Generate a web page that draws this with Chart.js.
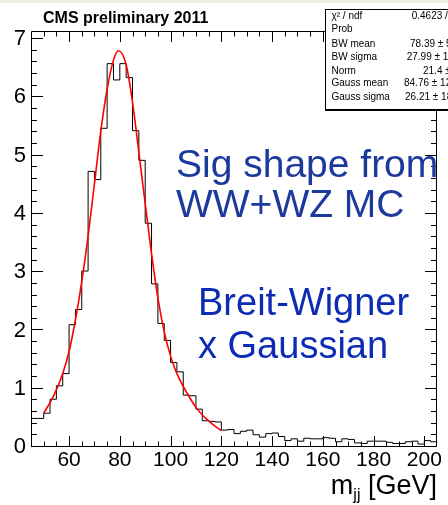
<!DOCTYPE html>
<html><head><meta charset="utf-8">
<script src="https://cdn.jsdelivr.net/npm/chart.js@4.4.1/dist/chart.umd.min.js"></script>
<style>html,body{margin:0;padding:0;background:#fff;overflow:hidden}</style>
</head><body>
<canvas id="c" width="448" height="505" style="display:block;width:448px;height:505px"></canvas>
<script>
// ---- data ----
const binLowEdges = [45,47.5,50,52.5,55,57.5,60,62.5,65,67.5,70,72.5,75,77.5,80,82.5,85,87.5,90,92.5,95,97.5,100,102.5,105,107.5,110,112.5,115,117.5,120,122.5,125,127.5,130,132.5,135,137.5,140,142.5,145,147.5,150,152.5,155,157.5,160,162.5,165,167.5,170,172.5,175,177.5,180,182.5,185,187.5,190,192.5,195,197.5,200,202.5];
const histUpperEdge = 205;
const binContents = [0.49,0.49,0.58,0.82,1.05,1.26,2.10,2.36,3.02,4.73,4.59,5.47,6.58,6.30,6.58,6.34,5.43,4.92,3.84,2.80,2.12,1.83,1.45,1.29,0.89,0.88,0.65,0.45,0.44,0.43,0.29,0.30,0.23,0.27,0.29,0.21,0.17,0.23,0.24,0.18,0.11,0.14,0.10,0.15,0.14,0.14,0.16,0.15,0.09,0.14,0.13,0.07,0.06,0.10,0.10,0.10,0.08,0.06,0.06,0.09,0.10,0.05,0.11,0.09];
const fitX = [50,52.5,55,57.5,60,62.5,65,67.5,70,72.5,75,77.5,79.5,82.5,85,87.5,90,92.5,95,97.5,100,102.5,105,107.5,110,112.5,115,117.5,120];
const fitY = [0.58,0.76,0.98,1.26,1.64,2.18,2.84,3.62,4.52,5.42,6.14,6.64,6.80,6.56,5.92,5.06,4.18,3.32,2.56,1.98,1.56,1.26,1.04,0.85,0.68,0.55,0.45,0.36,0.28];
const xTickLabels = [60,80,100,120,140,160,180,200];
const yTickLabels = [0,1,2,3,4,5,6,7];
const statsNames = ["\u03C7\u00B2 / ndf","Prob","BW mean","BW sigma","Norm","Gauss mean","Gauss sigma"];
const statsValues = ["0.4623 /","","78.39 \u00B1 5","27.99 \u00B1 11","21.4 \u00B1","84.76 \u00B1 12","26.21 \u00B1 18"];
const titleText = "CMS preliminary 2011";
const noteLines1 = ["Sig shape from","WW+WZ MC"];
const noteLines2 = ["Breit-Wigner","x Gaussian"];

const FONT = '"Liberation Sans", Arial, Helvetica, sans-serif';

const histPoints = binLowEdges.map((e,i)=>({x:e,y:binContents[i]}));
histPoints.push({x:histUpperEdge, y:binContents[binContents.length-1]});
const fitPoints = fitX.map((v,i)=>({x:v,y:fitY[i]}));

const rootPlugin = {
  id:'rootStyle',
  beforeDraw(chart){
    const c = chart.ctx; c.save();
    c.fillStyle='#fff'; c.fillRect(0,0,chart.width,chart.height);
    c.fillStyle='#f3f0de'; c.fillRect(0,0,chart.width,3);
    c.restore();
  },
  afterDatasetsDraw(chart){
    const {ctx, chartArea:a, scales} = chart;
    const x = scales.x, y = scales.y;
    const L=Math.round(a.left), R=Math.round(a.right), T=Math.round(a.top), B=Math.round(a.bottom);
    ctx.save();
    ctx.strokeStyle='#000'; ctx.lineWidth=1;
    ctx.beginPath();
    ctx.moveTo(L+0.5,T+0.5); ctx.lineTo(R-0.5,T+0.5); ctx.lineTo(R-0.5,B-0.5); ctx.lineTo(L+0.5,B-0.5); ctx.closePath();
    for(let v=50; v<205; v+=5){
      const px = Math.round(x.getPixelForValue(v))+0.5;
      const len = (v%20===0)?11:5.5;
      ctx.moveTo(px,B); ctx.lineTo(px,B-len);
      ctx.moveTo(px,T); ctx.lineTo(px,T+len);
    }
    for(let k=0;k<=35;k++){
      const v = k*0.2;
      const py = Math.round(y.getPixelForValue(v))-0.5;
      const len = (k%5===0)?12:6;
      ctx.moveTo(L,py); ctx.lineTo(L+len,py);
      ctx.moveTo(R,py); ctx.lineTo(R-len,py);
    }
    ctx.stroke();
    ctx.restore();
  },
  afterDraw(chart){
    const ctx = chart.ctx;
    ctx.save();
    ctx.textBaseline='alphabetic'; ctx.textAlign='left';
    ctx.fillStyle='#000';
    ctx.font='bold 16px '+FONT;
    ctx.fillText(titleText,43,23);
    ctx.fillStyle='#1c399c';
    ctx.font='39px '+FONT;
    ctx.fillText(noteLines1[0],176,177);
    ctx.fillText(noteLines1[1],176,217);
    ctx.fillStyle='#0c2cb4';
    ctx.font='38px '+FONT;
    ctx.fillText(noteLines2[0],198,315);
    ctx.fillText(noteLines2[1],198,358);
    ctx.fillStyle='#000';
    ctx.font='27px '+FONT;
    const tail=' [GeV]';
    const wTail=ctx.measureText(tail).width;
    ctx.font='16px '+FONT;
    const wSub=ctx.measureText('jj').width;
    ctx.font='27px '+FONT;
    const wM=ctx.measureText('m').width;
    const xr=437;
    ctx.fillText(tail,xr-wTail,494);
    ctx.font='16px '+FONT;
    ctx.fillText('jj',xr-wTail-wSub,500);
    ctx.font='27px '+FONT;
    ctx.fillText('m',xr-wTail-wSub-wM,494);
    ctx.fillStyle='#fff';
    ctx.fillRect(325,9,140,101);
    ctx.strokeStyle='#000'; ctx.lineWidth=1;
    ctx.strokeRect(325.5,9.5,140,100);
    ctx.beginPath(); ctx.moveTo(325,110.5); ctx.lineTo(448,110.5); ctx.stroke();
    ctx.fillStyle='#000';
    ctx.font='10px '+FONT;
    const rows=[18.5,32,46.5,59.5,73.5,86,100];
    const valX=[411.7,0,410,406.7,423,404,405];
    statsNames.forEach((n,i)=>{
      ctx.fillText(n,331.5,rows[i]);
      if(statsValues[i]) ctx.fillText(statsValues[i],valX[i],rows[i]);
    });
    ctx.restore();
  }
};

new Chart(document.getElementById('c'),{
  type:'line',
  data:{datasets:[
    {label:'fit',data:fitPoints,borderColor:'#ff0000',borderWidth:1.6,pointRadius:0,cubicInterpolationMode:'monotone',fill:false,order:0},
    {label:'hist',data:histPoints,borderColor:'#000',borderWidth:1,pointRadius:0,stepped:'before',fill:false,order:1}
  ]},
  options:{
    responsive:false, animation:false, devicePixelRatio:1,
    layout:{padding:0},
    plugins:{legend:{display:false},tooltip:{enabled:false},title:{display:false}},
    scales:{
      x:{type:'linear',position:'bottom',min:45,max:205,
        grid:{display:false,drawTicks:false},border:{display:false},
        ticks:{font:{family:FONT,size:21},color:'#000',padding:1,maxRotation:0,autoSkip:false},
        afterBuildTicks(s){s.ticks=xTickLabels.map(v=>({value:v}));},
        afterFit(s){s.height=58;}},
      x2:{type:'linear',position:'top',min:45,max:205,
        grid:{display:false,drawTicks:false},border:{display:false},ticks:{display:false},
        afterFit(s){s.height=31;}},
      y:{type:'linear',position:'left',min:0,max:7.14,
        grid:{display:false,drawTicks:false},border:{display:false},
        ticks:{font:{family:FONT,size:22},color:'#000',padding:5},
        afterBuildTicks(s){s.ticks=yTickLabels.map(v=>({value:v}));},
        afterFit(s){s.width=31;}},
      y2:{type:'linear',position:'right',min:0,max:7.14,
        grid:{display:false,drawTicks:false},border:{display:false},ticks:{display:false},
        afterFit(s){s.width=11;}}
    }
  },
  plugins:[rootPlugin]
});
</script>
</body></html>
